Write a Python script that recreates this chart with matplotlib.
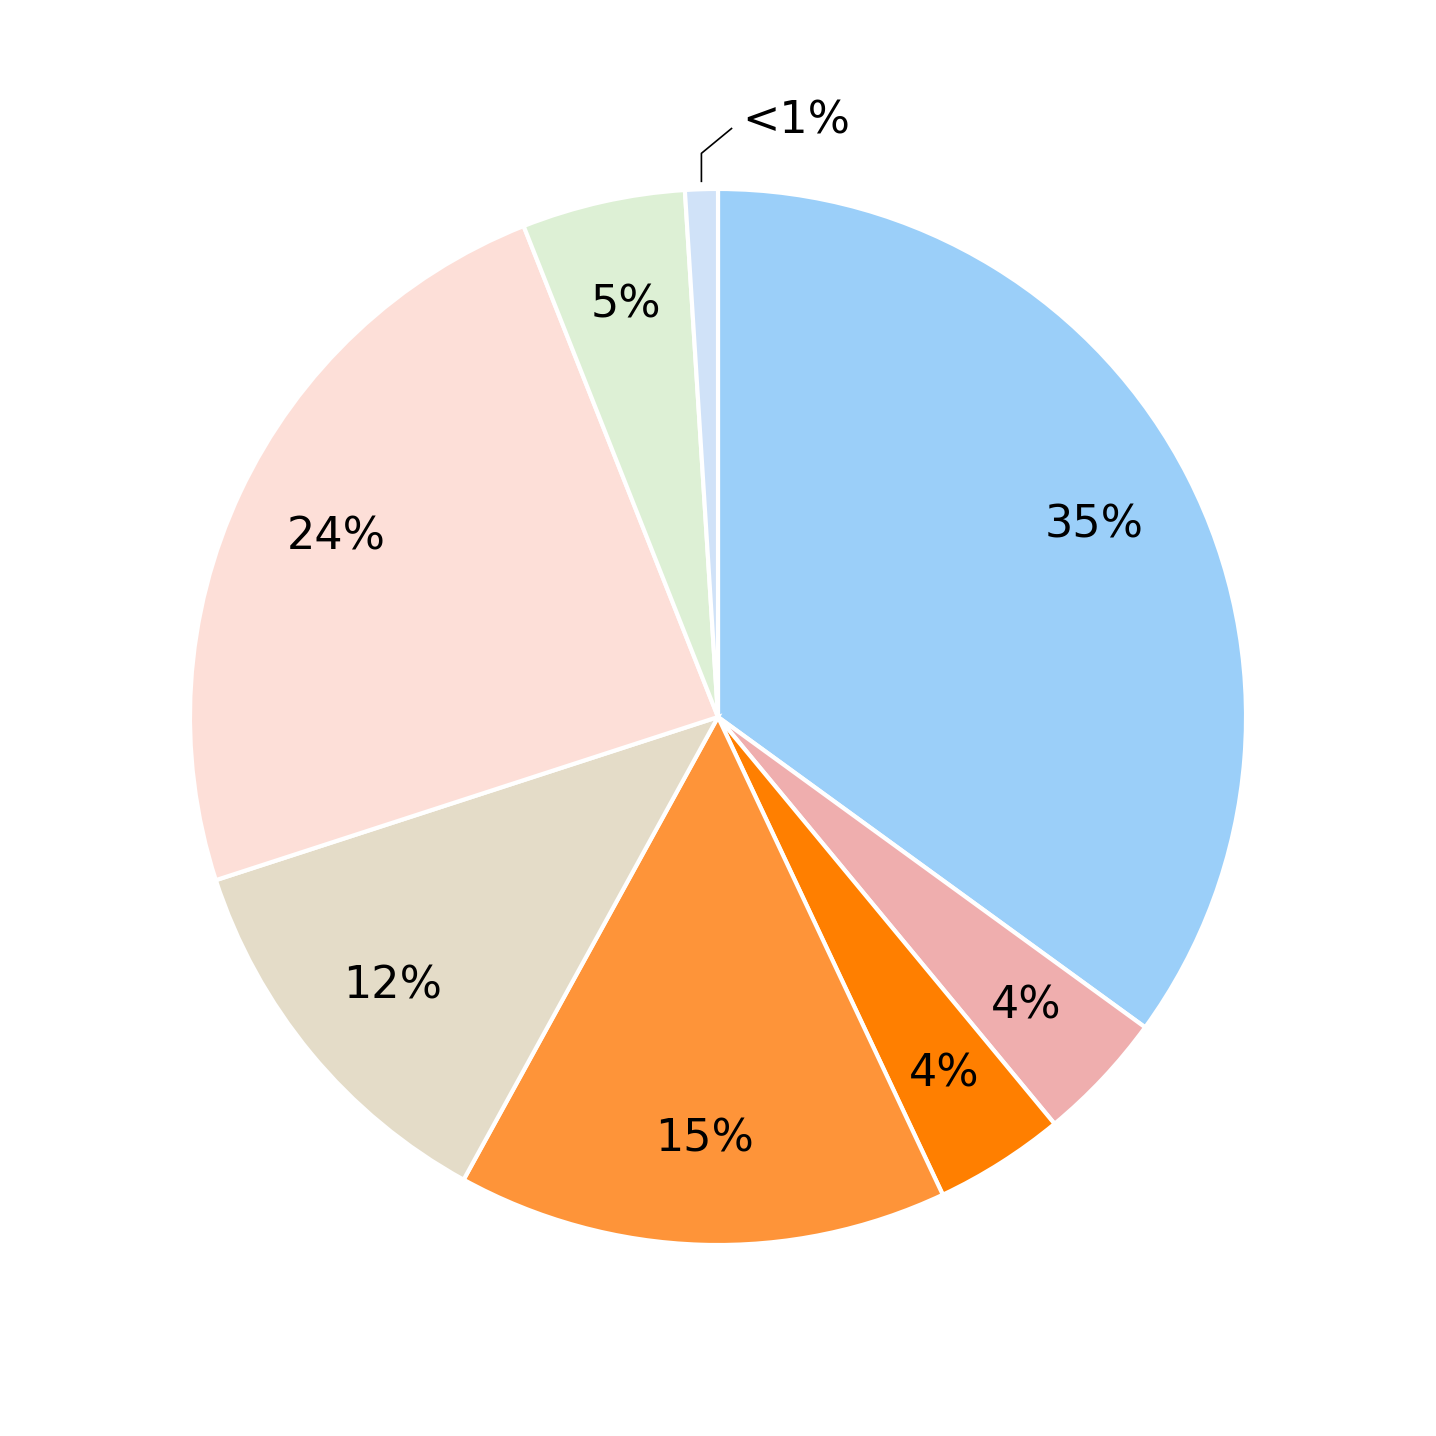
import matplotlib
matplotlib.use("Agg")
import matplotlib.pyplot as plt
import numpy as np

values = [35, 4, 4, 15, 12, 24, 5, 1]
labels = ["35%", "4%", "4%", "15%", "12%", "24%", "5%", "<1%"]
colors = ["#9bcff9", "#efaeae", "#ff7f00", "#fe9439", "#e4dcc8", "#fddfd8", "#ddf0d5", "#d0e2f8"]

fig = plt.figure(figsize=(14.36, 14.36), dpi=100)
ax = fig.add_axes([0.1323, 0.133, 0.7354, 0.7354])
wedges, _ = ax.pie(values, colors=colors, startangle=90, counterclock=False,
                   wedgeprops=dict(edgecolor="white", linewidth=3))
ax.set_xlim(-1, 1); ax.set_ylim(-1, 1); ax.set_aspect("equal")
for w, lab in zip(wedges[:-1], labels[:-1]):
    a = np.deg2rad((w.theta1 + w.theta2) / 2)
    ax.text(0.8 * np.cos(a), 0.8 * np.sin(a), lab, ha="center", va="center",
            fontsize=32, color="black")
w = wedges[-1]
a = np.deg2rad((w.theta1 + w.theta2) / 2)
x0, y0 = np.cos(a), np.sin(a)
ax.plot([x0, x0, x0 + 0.057], [y0 + 0.015, y0 + 0.068, y0 + 0.115], color="black", lw=1.2, clip_on=False)
ax.text(x0 + 0.078, y0 + 0.13, labels[-1], ha="left", va="center", fontsize=32, color="black")
fig.savefig("out.png", dpi=100)
